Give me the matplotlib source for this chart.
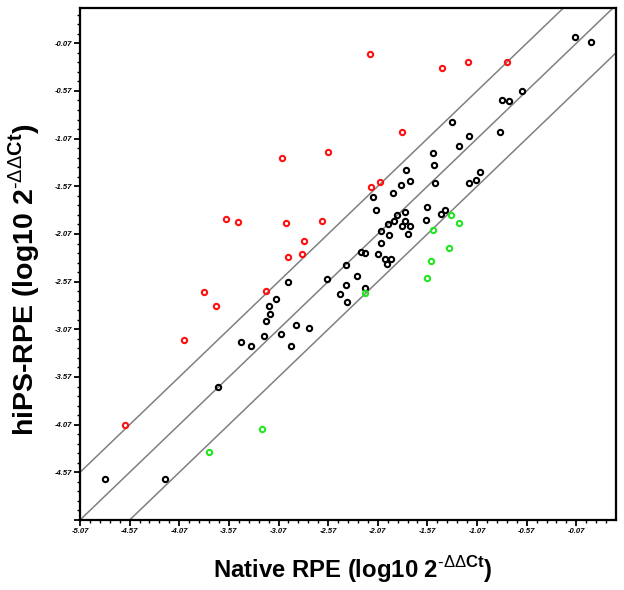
import numpy as np
import matplotlib
matplotlib.use("Agg")
import matplotlib.pyplot as plt
from matplotlib.ticker import FixedLocator

plt.rcParams['font.family'] = ['Liberation Sans', 'DejaVu Sans']
plt.rcParams['mathtext.fontset'] = 'custom'
plt.rcParams['mathtext.rm'] = 'Liberation Sans'
plt.rcParams['mathtext.bf'] = 'Liberation Sans:bold'

# native RPE (x) vs hiPS-RPE (y), log10 2^-ddCt
black_x = [-0.08, 0.08, -0.62, -0.82, -0.75, -1.32, -1.15, -0.84, -1.25, -1.51,
           -1.50, -1.79, -1.745, -1.84, -1.92, -2.12, -1.49, -1.04, -1.08, -1.15,
           -2.09, -1.80, -1.88, -1.91, -1.795, -1.97, -1.83, -1.75, -1.57, -1.58,
           -1.39, -1.43, -2.04, -1.96, -1.77, -2.035, -2.24, -2.20, -2.07, -2.00,
           -1.94, -1.98, -2.39, -2.28, -2.58, -2.39, -2.20, -2.45, -2.38, -2.97,
           -3.10, -3.17, -3.16, -3.20, -2.89, -2.76, -3.04, -3.22, -3.45, -3.35,
           -2.94, -3.68, -4.82, -4.21]
black_y = [0.00, -0.06, -0.57, -0.66, -0.68, -0.90, -1.04, -1.00, -1.15, -1.22,
           -1.35, -1.40, -1.51, -1.56, -1.64, -1.68, -1.54, -1.42, -1.50, -1.54,
           -1.82, -1.84, -1.87, -1.93, -1.93, -1.97, -1.99, -1.99, -1.79, -1.92,
           -1.82, -1.86, -2.04, -2.08, -2.07, -2.16, -2.26, -2.27, -2.28, -2.33,
           -2.33, -2.39, -2.40, -2.51, -2.54, -2.61, -2.64, -2.70, -2.78, -2.57,
           -2.75, -2.83, -2.91, -2.98, -3.03, -3.06, -3.12, -3.14, -3.20, -3.24,
           -3.24, -3.67, -4.64, -4.64]

red_x = [-2.15, -1.42, -1.16, -0.77, -1.83, -2.57, -3.03, -2.14, -2.05, -3.60,
         -3.48, -2.99, -2.63, -2.81, -2.83, -2.97, -3.20, -3.82, -3.70, -4.02, -4.62]
red_y = [-0.185, -0.33, -0.27, -0.27, -1.005, -1.215, -1.27, -1.58, -1.53, -1.91,
         -1.94, -1.96, -1.93, -2.14, -2.275, -2.31, -2.67, -2.675, -2.83, -3.18, -4.07]

green_x = [-3.24, -3.77, -2.20, -1.53, -1.57, -1.51, -1.35, -1.33, -1.25]
green_y = [-4.12, -4.36, -2.69, -2.355, -2.53, -2.03, -2.22, -1.87, -1.95]

band_offsets = [0.5, 0.0, -0.5]
tick_vals = [-5.07, -4.57, -4.07, -3.57, -3.07, -2.57, -2.07, -1.57, -1.07, -0.57, -0.07]

fig = plt.figure(figsize=(6.24, 5.90), dpi=100)
ax = fig.add_axes([80 / 624, 1 - 520 / 590, 536 / 624, 512 / 590])

for off in band_offsets:
    ax.axline((0, off), slope=1, color='#808080', lw=1.1, zorder=1)

mk = dict(marker='o', ls='none', ms=3.8, mew=1.5, mfc='none', zorder=3)
ax.plot(black_x, black_y, mec='black', **mk)
ax.plot(red_x, red_y, mec='#ff1010', **mk)
ax.plot(green_x, green_y, mec='#22e622', **mk)

ax.set_xlim(-5.07, 0.33)
ax.set_ylim(-5.07, 0.30)

for axis in (ax.xaxis, ax.yaxis):
    axis.set_major_locator(FixedLocator(tick_vals))
    axis.set_minor_locator(FixedLocator(np.round(np.arange(-5.07, 0.33, 0.1), 2)))
ax.set_xticklabels(['%.2f' % v for v in tick_vals])
# the y axis shows no label at the corner value
ax.set_yticklabels([''] + ['%.2f' % v for v in tick_vals[1:]])
ax.tick_params(which='major', direction='out', length=4, width=1.3, pad=1.5,
               labelsize=5.5, colors='black')
ax.tick_params(which='minor', direction='out', length=2.5, width=1.0)
for lab in ax.get_xticklabels() + ax.get_yticklabels():
    lab.set_fontweight('bold')
    lab.set_fontstyle('italic')

for s in ax.spines.values():
    s.set_linewidth(1.6)
    s.set_color('black')

sup = '$^{\u2010\\Delta\\Delta\\mathbf{Ct}}$'
fig.text(353 / 624, 1 - 570 / 590, 'Native RPE (log10 2' + sup + ')',
         ha='center', va='center', fontsize=17.2, fontweight='bold')
fig.text(24 / 624, 1 - 280 / 590, 'hiPS-RPE (log10 2' + sup + ')',
         ha='center', va='center', rotation=90, fontsize=20.5, fontweight='bold')

fig.savefig('out.png', dpi=100)
